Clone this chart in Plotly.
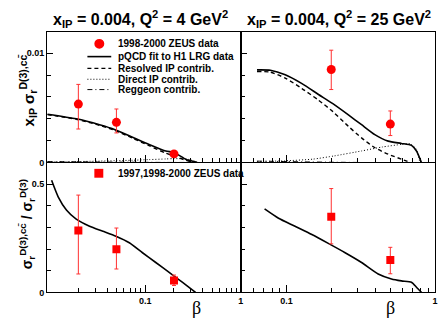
import math
import plotly.graph_objects as go

W, H = 439, 323

# ---------------- data ----------------
# ZEUS charm data, Q2 = 4 GeV2
beta_q4 = [0.02, 0.05, 0.2]
sig_q4 = [0.00534, 0.00367, 0.00078]
sig_q4_up = [0.0018, 0.00122, 0.0003]
sig_q4_dn = [0.00228, 0.00097, 0.0003]
ratio_q4 = [0.286, 0.199, 0.055]
ratio_q4_up = [0.163, 0.098, 0.025]
ratio_q4_dn = [0.201, 0.091, 0.023]

# ZEUS charm data, Q2 = 25 GeV2
beta_q25 = [0.2, 0.5]
sig_q25 = [0.0085, 0.00351]
sig_q25_up = [0.00177, 0.0012]
sig_q25_dn = [0.00183, 0.00105]
ratio_q25 = [0.349, 0.149]
ratio_q25_up = [0.13, 0.059]
ratio_q25_dn = [0.125, 0.063]

# pQCD curves, Q2 = 4
beta_q4_curve = [0.0095, 0.019, 0.0333, 0.0484, 0.0738, 0.11, 0.164, 0.2, 0.265, 0.3, 0.35]
q4_fit = [0.00441, 0.00399, 0.00345, 0.0030, 0.00231, 0.00165, 0.00105, 0.00092, 0.0003, 0.00015, 0.0]
q4_res = [0.00438, 0.00395, 0.0034, 0.00293, 0.00222, 0.00153, 0.00085, 0.0006, 0.0002, 0.00005, 0.0]
q4_dir = [0.00004, 0.00008, 0.00012, 0.00016, 0.0002, 0.00026, 0.00032, 0.00035, 0.00033, 0.00022, 0.0]
q4_reg = [0.00008, 0.00006, 0.00004, 0.00003, 0.00002, 0.00001, 0.0, 0.0, 0.0, 0.0, 0.0]

# pQCD curves, Q2 = 25
beta_q25_fit = [0.0632, 0.0778, 0.098, 0.127, 0.164, 0.205, 0.261, 0.32, 0.393, 0.484, 0.594, 0.694, 0.75, 0.81]
q25_fit = [0.00847, 0.00844, 0.00802, 0.00721, 0.00622, 0.00538, 0.00435, 0.00345, 0.00255, 0.00195, 0.00174, 0.00156, 0.00105, 0.0]
beta_q25_res = [0.0632, 0.0778, 0.098, 0.127, 0.164, 0.205, 0.261, 0.32, 0.393, 0.484, 0.594, 0.68]
q25_res = [0.00832, 0.00826, 0.00772, 0.00676, 0.0057, 0.00465, 0.0033, 0.00225, 0.00135, 0.00075, 0.0003, 0.0]
beta_q25_dir = [0.0632, 0.098, 0.15, 0.21, 0.32, 0.44, 0.594, 0.68, 0.75, 0.79]
q25_dir = [0.00009, 0.00015, 0.0003, 0.0006, 0.00105, 0.00141, 0.00165, 0.00171, 0.0012, 0.0]
beta_q25_reg = [0.0632, 0.08, 0.1, 0.13, 0.2, 0.3]
q25_reg = [0.00012, 0.0001, 0.00008, 0.00005, 0.00002, 0.0]

# charm fraction curves
beta_q4_ratio = [0.0105, 0.0123, 0.015, 0.019, 0.0262, 0.0361, 0.0495, 0.0682, 0.0937, 0.129, 0.178, 0.244, 0.336]
q4_ratio_fit = [0.517, 0.441, 0.38, 0.338, 0.305, 0.282, 0.259, 0.229, 0.183, 0.138, 0.092, 0.047, 0.0]
beta_q25_ratio = [0.0711, 0.0883, 0.114, 0.148, 0.191, 0.248, 0.32, 0.414, 0.509, 0.594, 0.694, 0.75, 0.81]
q25_ratio_fit = [0.385, 0.342, 0.305, 0.267, 0.226, 0.183, 0.138, 0.085, 0.062, 0.053, 0.047, 0.024, 0.0]

titles = ["x<sub>IP</sub> = 0.004, Q<sup>2</sup> = 4 GeV<sup>2</sup>",
          "x<sub>IP</sub> = 0.004, Q<sup>2</sup> = 25 GeV<sup>2</sup>"]
legend_top = ["1998-2000 ZEUS data", "pQCD fit to H1 LRG data", "Resolved IP contrib.",
              "Direct IP contrib.", "Reggeon contrib."]
legend_bot = "1997,1998-2000 ZEUS data"

# ---------------- figure ----------------
def px(x):
    return x / W

def py(y):
    return 1 - y / H

SANS = "Liberation Sans"
fig = go.Figure()

def line(x, y, ax, dash="solid", width=1.6):
    fig.add_trace(go.Scatter(x=x, y=y, mode="lines", line=dict(color="black", width=width, dash=dash,
                  shape="spline", smoothing=0.6), xaxis=ax[0], yaxis=ax[1], showlegend=False,
                  hoverinfo="skip"))

def points(x, y, up, dn, ax, symbol, size):
    fig.add_trace(go.Scatter(x=x, y=y, mode="markers", marker=dict(color="red", size=size, symbol=symbol),
                  error_y=dict(type="data", symmetric=False, array=up, arrayminus=dn, color="#ff3030",
                               thickness=1, width=2),
                  xaxis=ax[0], yaxis=ax[1], showlegend=False))

TL, TR, BL, BR = ("x", "y"), ("x2", "y2"), ("x3", "y3"), ("x4", "y4")
DASH = "4px,3px"
DOT = "1px,2px"
DASHDOT = "5px,3px,1px,3px"

line(beta_q4_curve, q4_reg, TL, DASHDOT, 1.0)
line(beta_q4_curve, q4_dir, TL, DOT, 1.0)
line(beta_q4_curve, q4_res, TL, DASH, 1.4)
line(beta_q4_curve, q4_fit, TL)
points(beta_q4, sig_q4, sig_q4_up, sig_q4_dn, TL, "circle", 9)

line(beta_q25_reg, q25_reg, TR, DASHDOT, 1.0)
line(beta_q25_dir, q25_dir, TR, DOT, 1.0)
line(beta_q25_res, q25_res, TR, DASH, 1.4)
line(beta_q25_fit, q25_fit, TR)
points(beta_q25, sig_q25, sig_q25_up, sig_q25_dn, TR, "circle", 9)

line(beta_q4_ratio, q4_ratio_fit, BL)
points(beta_q4, ratio_q4, ratio_q4_up, ratio_q4_dn, BL, "square", 8)
line(beta_q25_ratio, q25_ratio_fit, BR)
points(beta_q25, ratio_q25, ratio_q25_up, ratio_q25_dn, BR, "square", 8)

tickfont = dict(family=SANS, size=9, color="black", weight="bold")
minor_log = [m * 10 ** e for e in (-3, -2, -1) for m in range(2, 10)]

def xaxis(dom, rng, labels):
    return dict(domain=dom, type="log", range=rng, showline=True, linecolor="black", linewidth=1,
                mirror=True, ticks="inside", ticklen=7, tickcolor="black", showgrid=False, zeroline=False,
                tickvals=[0.1, 1], ticktext=["0.1", "1"], showticklabels=labels, tickfont=tickfont,
                minor=dict(tickmode="array", tickvals=minor_log, ticks="inside", ticklen=4,
                           tickcolor="black", showgrid=False))

def yaxis(dom, rng, vals, text, minor, labels, anchor):
    return dict(domain=dom, range=rng, showline=True, linecolor="black", linewidth=1, mirror=True,
                ticks="inside", ticklen=6, tickcolor="black", showgrid=False, zeroline=False,
                tickvals=vals, ticktext=text, showticklabels=labels, tickfont=tickfont, anchor=anchor,
                minor=dict(tickmode="array", tickvals=minor, ticks="inside", ticklen=4,
                           tickcolor="black", showgrid=False))

xl = [px(47.5), px(242.5)]
xr = [px(242.5), px(438)]
yt = [py(165), py(32)]
yb = [py(297), py(166)]
rng_l = [math.log10(0.00944), 0]
rng_r = [math.log10(0.0492), 0]
top_minor = [0.002, 0.004, 0.006, 0.008]
bot_minor = [0.1, 0.2, 0.3, 0.4]

fig.update_layout(
    width=W, height=H, margin=dict(l=0, r=0, t=0, b=0), autosize=False,
    paper_bgcolor="white", plot_bgcolor="white", showlegend=False,
    xaxis=dict(xaxis(xl, rng_l, False), anchor="y"),
    xaxis2=dict(xaxis(xr, rng_r, False), anchor="y2"),
    xaxis3=dict(xaxis(xl, rng_l, True), anchor="y3"),
    xaxis4=dict(xaxis(xr, rng_r, True), anchor="y4"),
    yaxis=yaxis(yt, [0, 0.01198], [0, 0.01], ["0", "0.01"], top_minor, True, "x"),
    yaxis2=yaxis(yt, [0, 0.01198], [0, 0.01], ["0", "0.01"], top_minor, False, "x2"),
    yaxis3=yaxis(yb, [0, 0.595], [0, 0.5], ["0", "0.5"], bot_minor, True, "x3"),
    yaxis4=yaxis(yb, [0, 0.595], [0, 0.5], ["0", "0.5"], bot_minor, False, "x4"),
)

def note(text, x, y, size, family=SANS, bold=True, anchor="center", angle=0):
    f = dict(family=family, size=size, color="black")
    if bold:
        f["weight"] = "bold"
    return dict(text=text, x=px(x), y=py(y), xref="paper", yref="paper", showarrow=False,
                xanchor=anchor, yanchor="middle", textangle=angle, font=f)

ann = [note(titles[0], 141, 19, 16), note(titles[1], 341, 19, 16),
       note("x<sub>IP</sub> σ<sub>r</sub><sup>D(3),cc\u0304</sup>", 28, 92, 15, angle=-90),
       note("σ<sub>r</sub><sup>D(3),cc\u0304</sup> / σ<sub>r</sub><sup>D(3)</sup>", 28, 228, 14, angle=-90)]
for xc in (198, 393):
    ann.append(note("β", xc, 313, 18, family="Liberation Serif", bold=False))

leg_y = [44.5, 57.5, 69.5, 80.5, 91]
for t, yy in zip(legend_top, leg_y):
    ann.append(note(t, 117, yy, 10, anchor="left"))
ann.append(note(legend_bot, 117, 176, 10, anchor="left"))
fig.update_layout(annotations=ann)

shapes = []
shapes.append(dict(type="circle", xref="paper", yref="paper", x0=px(95), x1=px(105), y0=py(49.5),
                   y1=py(39.5), fillcolor="red", line=dict(color="red", width=0)))
for yy, dash, wd in zip(leg_y[1:], ["solid", DASH, DOT, DASHDOT], [1.6, 1.4, 1.0, 1.0]):
    shapes.append(dict(type="line", xref="paper", yref="paper", x0=px(88), x1=px(112), y0=py(yy),
                       y1=py(yy), line=dict(color="black", width=wd, dash=dash)))
shapes.append(dict(type="rect", xref="paper", yref="paper", x0=px(95), x1=px(104), y0=py(180.5),
                   y1=py(171.5), fillcolor="red", line=dict(color="red", width=0)))
fig.update_layout(shapes=shapes)

fig.write_html("out.html", config={"displayModeBar": False},
               post_script="document.body.style.margin='0';")
